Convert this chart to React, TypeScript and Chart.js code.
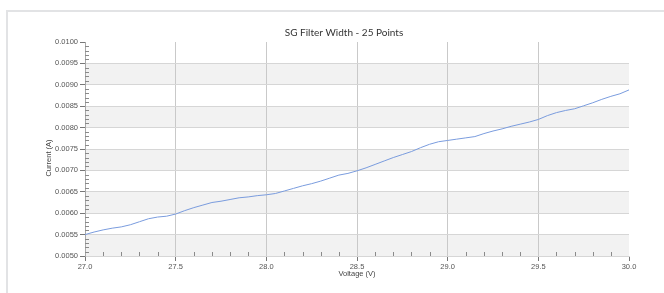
import React, { useEffect, useRef } from "react";
import { Chart, registerables } from "chart.js";

Chart.register(...registerables);

const chartTitle = "SG Filter Width - 25 Points";
const xAxisTitle = "Voltage (V)";
const yAxisTitle = "Current (A)";

const voltage = [
  27.0, 27.05, 27.1, 27.15, 27.2, 27.25, 27.3, 27.35, 27.4, 27.45,
  27.5, 27.55, 27.6, 27.65, 27.7, 27.75, 27.8, 27.85, 27.9, 27.95,
  28.0, 28.05, 28.1, 28.15, 28.2, 28.25, 28.3, 28.35, 28.4, 28.45,
  28.5, 28.55, 28.6, 28.65, 28.7, 28.75, 28.8, 28.85, 28.9, 28.95,
  29.0, 29.05, 29.1, 29.15, 29.2, 29.25, 29.3, 29.35, 29.4, 29.45,
  29.5, 29.55, 29.6, 29.65, 29.7, 29.75, 29.8, 29.85, 29.9, 29.95, 30.0,
];

const current = [
  0.0055, 0.00556, 0.00561, 0.00565, 0.00568, 0.00573, 0.0058, 0.00587, 0.00591, 0.00593,
  0.00598, 0.00606, 0.00613, 0.00619, 0.00625, 0.00628, 0.00632, 0.00636, 0.00638, 0.00641,
  0.00643, 0.00646, 0.00652, 0.00658, 0.00664, 0.00669, 0.00675, 0.00682, 0.00689, 0.00693,
  0.00699, 0.00706, 0.00714, 0.00722, 0.0073, 0.00737, 0.00744, 0.00753, 0.00761, 0.00767,
  0.0077, 0.00773, 0.00776, 0.00779, 0.00786, 0.00792, 0.00797, 0.00803, 0.00808, 0.00813,
  0.00819, 0.00828, 0.00835, 0.0084, 0.00844, 0.00851, 0.00858, 0.00866, 0.00873, 0.00879, 0.00888,
];

const xMin = 27.0;
const xMax = 30.0;
const xMajorStep = 0.5;
const xMinorStep = 0.1;
const yMin = 0.005;
const yMax = 0.01;
const yMajorStep = 0.0005;
const yMinorStep = 0.0001;

const LABEL_FONT = "'Liberation Sans', Arial, sans-serif";

const decorPlugin = {
  id: "decor",
  beforeDraw(chart: any) {
    const { ctx, chartArea, scales } = chart;
    const ys = scales.y;
    ctx.save();
    ctx.fillStyle = "#f2f2f2";
    let i = 0;
    for (let v = yMin; v < yMax - 1e-9; v += yMajorStep, i++) {
      if (i % 2 === 0) {
        const top = ys.getPixelForValue(v + yMajorStep);
        const bot = ys.getPixelForValue(v);
        ctx.fillRect(chartArea.left, top, chartArea.right - chartArea.left, bot - top);
      }
    }
    ctx.restore();
  },
  afterDraw(chart: any) {
    const { ctx, chartArea, scales } = chart;
    const xs = scales.x;
    const ys = scales.y;
    ctx.save();
    ctx.strokeStyle = "#8a8a8a";
    ctx.lineWidth = 1;
    ctx.beginPath();
    const nY = Math.round((yMax - yMin) / yMinorStep);
    for (let k = 1; k < nY; k++) {
      if (k % 5 === 0) continue;
      const py = Math.round(ys.getPixelForValue(yMin + k * yMinorStep)) + 0.5;
      ctx.moveTo(chartArea.left, py);
      ctx.lineTo(chartArea.left + 4, py);
    }
    const nX = Math.round((xMax - xMin) / xMinorStep);
    for (let k = 1; k < nX; k++) {
      if (k % 5 === 0) continue;
      const px = Math.round(xs.getPixelForValue(xMin + k * xMinorStep)) + 0.5;
      ctx.moveTo(px, chartArea.bottom);
      ctx.lineTo(px, chartArea.bottom - 4);
    }
    ctx.stroke();

    ctx.fillStyle = "#333";
    ctx.font = "10px Lato, 'Open Sans', sans-serif";
    ctx.textAlign = "center";
    ctx.textBaseline = "middle";
    ctx.fillText(chartTitle, 344, 33);

    ctx.fillStyle = "#444";
    ctx.font = `7.5px ${LABEL_FONT}`;
    ctx.fillText(xAxisTitle, (chartArea.left + chartArea.right) / 2, 274);
    ctx.translate(49, 158);
    ctx.rotate(-Math.PI / 2);
    ctx.fillText(yAxisTitle, 0, 0);
    ctx.restore();
  },
};

function near(a: number, b: number) {
  return Math.abs(a - b) < 1e-9;
}

export default function App() {
  const ref = useRef<HTMLCanvasElement | null>(null);

  useEffect(() => {
    if (!ref.current) return;
    const chart = new Chart(ref.current, {
      type: "line",
      data: {
        datasets: [
          {
            data: voltage.map((v, i) => ({ x: v, y: current[i] })),
            borderColor: "rgb(122,156,222)",
            borderWidth: 1,
            pointRadius: 0,
            tension: 0,
            fill: false,
          },
        ],
      },
      options: {
        animation: false,
        responsive: false,
        maintainAspectRatio: false,
        layout: { padding: { left: 0, right: 35, top: 42, bottom: 0 } },
        plugins: {
          legend: { display: false },
          title: { display: false },
          tooltip: { enabled: false },
        },
        scales: {
          x: {
            type: "linear",
            min: xMin,
            max: xMax,
            afterFit: (s: any) => {
              s.height = 37;
            },
            ticks: {
              stepSize: xMajorStep,
              autoSkip: false,
              maxRotation: 0,
              padding: 1,
              color: "#555",
              font: { family: LABEL_FONT, size: 7.5 },
              callback: (v: any) => Number(v).toFixed(1),
            },
            grid: {
              drawOnChartArea: true,
              tickLength: 5,
              color: (c: any) =>
                c.tick && (near(c.tick.value, xMin) || near(c.tick.value, xMax))
                  ? "rgba(0,0,0,0)"
                  : "#c9c9c9",
              tickColor: "#777",
            },
            border: { display: true, color: "#d6d6d6" },
          },
          y: {
            type: "linear",
            min: yMin,
            max: yMax,
            afterFit: (s: any) => {
              s.width = 85;
            },
            ticks: {
              stepSize: yMajorStep,
              autoSkip: false,
              padding: 2,
              color: "#555",
              font: { family: LABEL_FONT, size: 7.5 },
              callback: (v: any) => Number(v).toFixed(4),
            },
            grid: {
              drawOnChartArea: true,
              tickLength: 5,
              color: (c: any) =>
                c.tick && near(c.tick.value, yMax) ? "rgba(0,0,0,0)" : "#d6d6d6",
              tickColor: "#777",
            },
            border: { display: true, color: "#a8a8a8" },
          },
        },
      },
      plugins: [decorPlugin],
    } as any);
    return () => chart.destroy();
  }, []);

  return (
    <div style={{ position: "fixed", left: 0, top: 0, width: 664, height: 293, background: "#fff", overflow: "hidden" }}>
      <div
        style={{
          position: "absolute",
          left: 6,
          top: 10,
          width: 700,
          height: 320,
          borderLeft: "2px solid #e2e3e5",
          borderTop: "2px solid #e2e3e5",
        }}
      />
      <canvas ref={ref} width={664} height={293} style={{ position: "absolute", left: 0, top: 0, width: 664, height: 293 }} />
    </div>
  );
}
